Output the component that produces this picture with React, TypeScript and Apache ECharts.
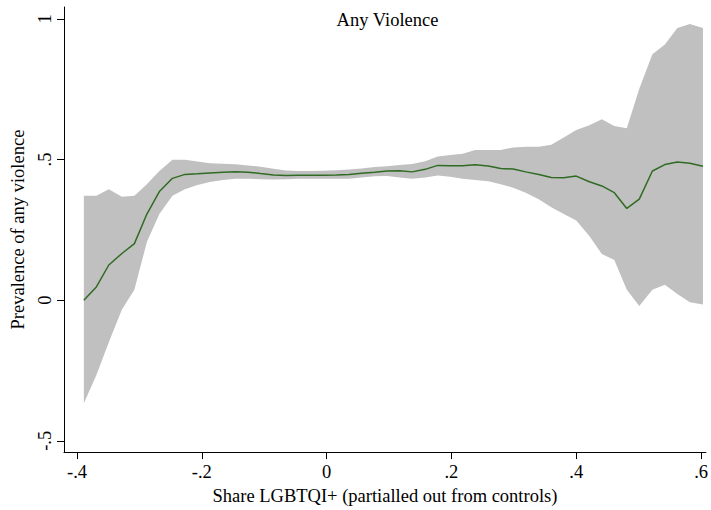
import React, { useEffect, useRef } from 'react';
import * as echarts from 'echarts';

// Share LGBTQI+ (partialled out) evaluation points
const xValues = [
  -0.389, -0.369, -0.349, -0.328, -0.308, -0.288, -0.268, -0.247, -0.227, -0.207,
  -0.187, -0.166, -0.146, -0.126, -0.106, -0.085, -0.065, -0.045, -0.025, -0.004,
  0.016, 0.036, 0.056, 0.077, 0.097, 0.117, 0.137, 0.158, 0.178, 0.198,
  0.218, 0.238, 0.259, 0.279, 0.299, 0.319, 0.34, 0.36, 0.38, 0.4,
  0.421, 0.441, 0.461, 0.481, 0.501, 0.522, 0.542, 0.562, 0.582, 0.603,
];

// Fitted prevalence of any violence
const meanValues = [
  0.0, 0.047, 0.125, 0.166, 0.201, 0.306, 0.386, 0.433, 0.447, 0.449,
  0.452, 0.455, 0.456, 0.455, 0.45, 0.445, 0.443, 0.444, 0.444, 0.444,
  0.445, 0.447, 0.451, 0.455, 0.459, 0.46, 0.456, 0.465, 0.479, 0.478,
  0.478, 0.481, 0.477, 0.468, 0.466, 0.456, 0.447, 0.436, 0.435, 0.441,
  0.421, 0.406, 0.382, 0.326, 0.359, 0.459, 0.482, 0.491, 0.487, 0.476,
];

// Upper confidence bound
const upperValues = [
  0.371, 0.371, 0.394, 0.368, 0.371, 0.412, 0.459, 0.499, 0.499, 0.493,
  0.487, 0.485, 0.483, 0.479, 0.474, 0.467, 0.461, 0.459, 0.459, 0.46,
  0.462, 0.464, 0.468, 0.473, 0.476, 0.48, 0.484, 0.494, 0.511, 0.516,
  0.52, 0.534, 0.534, 0.534, 0.543, 0.545, 0.545, 0.552, 0.578, 0.605,
  0.622, 0.643, 0.619, 0.611, 0.751, 0.874, 0.909, 0.967, 0.982, 0.967,
];

// Lower confidence bound
const lowerValues = [
  -0.366, -0.267, -0.15, -0.033, 0.037, 0.207, 0.306, 0.371, 0.394, 0.409,
  0.42, 0.427, 0.432, 0.432, 0.43, 0.429, 0.43, 0.432, 0.432, 0.432,
  0.432, 0.432, 0.436, 0.44, 0.441, 0.436, 0.432, 0.436, 0.443, 0.439,
  0.432, 0.427, 0.423, 0.412, 0.4, 0.382, 0.359, 0.33, 0.306, 0.283,
  0.228, 0.164, 0.143, 0.037, -0.021, 0.037, 0.055, 0.022, -0.007, -0.015,
];

const xTickValues = [-0.4, -0.2, 0, 0.2, 0.4, 0.6];
const xTickLabels = ['-.4', '-.2', '0', '.2', '.4', '.6'];
const yTickValues = [-0.5, 0, 0.5, 1];
const yTickLabels = ['-.5', '0', '.5', '1'];

const FONT = "'Liberation Serif', 'Times New Roman', Times, serif";
const FS = 18.5;

function labelFor(values: number[], labels: string[]) {
  return (v: number) => {
    const i = values.findIndex((t) => Math.abs(t - v) < 1e-9);
    return i >= 0 ? labels[i] : '';
  };
}

export default function App() {
  const ref = useRef<HTMLDivElement>(null);

  useEffect(() => {
    if (!ref.current) return;
    const chart = echarts.init(ref.current, undefined, { renderer: 'svg' });

    const bandData = xValues.map((x, i) => [x, lowerValues[i], upperValues[i]]);
    const lineData = xValues.map((x, i) => [x, meanValues[i]]);

    chart.setOption({
      animation: false,
      backgroundColor: '#ffffff',
      title: {
        text: 'Any Violence',
        left: 387.5,
        textAlign: 'center',
        top: 10,
        padding: 0,
        textStyle: { fontFamily: FONT, fontSize: FS, fontWeight: 'normal', color: '#000' },
      },
      grid: { left: 64, right: 0, top: 7, bottom: 52, containLabel: false },
      xAxis: {
        type: 'value',
        min: -0.4208,
        max: 0.6078,
        name: 'Share LGBTQI+ (partialled out from controls)',
        nameLocation: 'middle',
        nameGap: 30,
        nameTextStyle: { fontFamily: FONT, fontSize: FS, color: '#000' },
        axisLine: { show: true, onZero: false, lineStyle: { color: '#000', width: 1 } },
        axisTick: { show: true, length: 7, customValues: xTickValues, lineStyle: { color: '#000' } },
        axisLabel: {
          customValues: xTickValues,
          formatter: labelFor(xTickValues, xTickLabels),
          fontFamily: FONT,
          fontSize: FS,
          color: '#000',
          margin: 10,
        },
        splitLine: { show: false },
      },
      yAxis: {
        type: 'value',
        min: -0.54,
        max: 1.042,
        name: 'Prevalence of any violence',
        nameLocation: 'middle',
        nameRotate: 90,
        nameGap: 33,
        nameTextStyle: { fontFamily: FONT, fontSize: FS, color: '#000' },
        axisLine: { show: true, onZero: false, lineStyle: { color: '#000', width: 1 } },
        axisTick: { show: true, length: 7, customValues: yTickValues, lineStyle: { color: '#000' } },
        axisLabel: {
          customValues: yTickValues,
          formatter: labelFor(yTickValues, yTickLabels),
          rotate: 90,
          fontFamily: FONT,
          fontSize: FS,
          color: '#000',
          margin: 10,
        },
        splitLine: { show: false },
      },
      series: [
        {
          type: 'custom',
          name: 'CI',
          z: 2,
          clip: true,
          data: bandData,
          encode: { x: 0, y: [1, 2] },
          renderItem: (params: any, api: any) => {
            if (params.dataIndex !== 0) return { type: 'group', children: [] };
            const pts: number[][] = [];
            for (let i = 0; i < xValues.length; i++) {
              pts.push(api.coord([xValues[i], upperValues[i]]));
            }
            for (let i = xValues.length - 1; i >= 0; i--) {
              pts.push(api.coord([xValues[i], lowerValues[i]]));
            }
            return {
              type: 'polygon',
              shape: { points: pts },
              style: { fill: '#c0c0c0', stroke: 'none' },
            };
          },
        },
        {
          type: 'line',
          name: 'Prevalence',
          z: 3,
          data: lineData,
          symbol: 'none',
          showSymbol: false,
          lineStyle: { color: '#2f6b22', width: 1.5 },
        },
      ],
    });

    return () => chart.dispose();
  }, []);

  return (
    <div
      ref={ref}
      style={{ position: 'fixed', left: 0, top: 0, width: 711, height: 510, background: '#fff' }}
    />
  );
}
